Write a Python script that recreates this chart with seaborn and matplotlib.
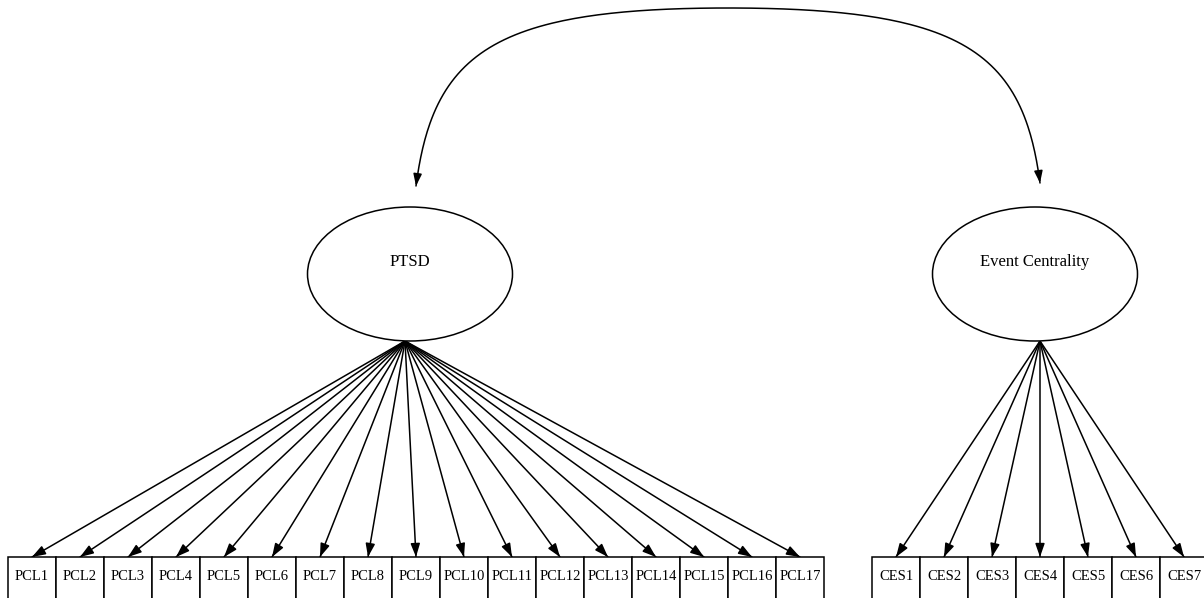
import numpy as np
import pandas as pd
import matplotlib
matplotlib.use("Agg")
import matplotlib.pyplot as plt
import seaborn as sns
from matplotlib.patches import Ellipse, Rectangle

sns.set_theme(style="white")
plt.rcParams['font.family'] = ['Liberation Serif', 'DejaVu Serif']

# model: two latent factors, their indicators, one covariance
latent = ["PTSD", "Event Centrality"]
pcl_items = ["PCL1", "PCL2", "PCL3", "PCL4", "PCL5", "PCL6", "PCL7", "PCL8", "PCL9",
             "PCL10", "PCL11", "PCL12", "PCL13", "PCL14", "PCL15", "PCL16", "PCL17"]
ces_items = ["CES1", "CES2", "CES3", "CES4", "CES5", "CES6", "CES7"]
indicators = {"PTSD": pcl_items, "Event Centrality": ces_items}

# layout in pixels (figure is 1204 x 598)
W, H = 1204, 598
box_w, box_h, box_top = 48, 52, 557
row_left = {"PTSD": 8, "Event Centrality": 872}
ell_center = {"PTSD": (410, 274), "Event Centrality": (1035, 274)}
ell_w, ell_h = 205, 134
label_y = 262
apex = {"PTSD": (405, 341), "Event Centrality": (1040, 341)}
cov_tips = [(416, 186), (1040, 183)]
cov_top = (728, 8)
k = 0.75       # handle length of the covariance curve
flare = 0.13   # outward lean at the arrow ends
lw = 1.1

fig = plt.figure(figsize=(W / 100, H / 100), dpi=100)
ax = fig.add_axes([0, 0, 1, 1])

# loading paths
rows = []
for lat in latent:
    ax0, ay0 = apex[lat]
    for i, item in enumerate(indicators[lat]):
        tx = row_left[lat] + box_w * i + box_w / 2
        rows.append({"edge": item, "x": ax0, "y": ay0, "tip": False})
        rows.append({"edge": item, "x": tx, "y": box_top, "tip": True})
edges = pd.DataFrame(rows)

sns.lineplot(data=edges, x="x", y="y", units="edge", estimator=None, sort=False,
             color="black", lw=lw, ax=ax, legend=False)


def head(xy, d, ms=10, hl=0.8, hw=0.28):
    d = np.asarray(d, float)
    d = d / np.hypot(*d)
    start = np.asarray(xy) - d * 6
    ax.annotate("", xy=xy, xytext=start,
                arrowprops=dict(arrowstyle=f"-|>,head_length={hl},head_width={hw}",
                                color="black", lw=lw, shrinkA=0, shrinkB=0,
                                mutation_scale=ms))


for item, g in edges.groupby("edge"):
    p0 = g.loc[~g["tip"], ["x", "y"]].values[0]
    p1 = g.loc[g["tip"], ["x", "y"]].values[0]
    head(tuple(p1), p1 - p0)


def bezier(P, n=120):
    t = np.linspace(0, 1, n)[:, None]
    return ((1 - t) ** 3 * P[0] + 3 * (1 - t) ** 2 * t * P[1]
            + 3 * (1 - t) * t ** 2 * P[2] + t ** 3 * P[3])


# covariance curve: two cubic halves meeting at the top
tx, ty = cov_top
segs = []
first_handles = []
for (ex, ey) in cov_tips:
    rx, ry = tx - ex, ey - ty
    c1 = (ex + np.sign(rx) * flare * k * ry, ey - k * ry)
    c2 = (tx - k * rx, ty)
    P = np.array([(ex, ey), c1, c2, (tx, ty)], float)
    segs.append(bezier(P))
    first_handles.append(P)
curve = np.vstack([segs[0], segs[1][::-1]])
cov = pd.DataFrame(curve, columns=["x", "y"])
sns.lineplot(data=cov, x="x", y="y", sort=False, estimator=None, color="black", lw=lw, ax=ax)
for P in first_handles:
    head(tuple(P[0]), P[0] - P[1], ms=9, hl=0.8, hw=0.28)

# latent ellipses
for lat in latent:
    cx, cy = ell_center[lat]
    ax.add_patch(Ellipse((cx, cy), ell_w, ell_h, facecolor="white",
                         edgecolor="black", lw=lw, zorder=3))
    ax.text(cx, label_y, lat, ha="center", va="center", fontsize=12,
            color="black", zorder=4)

# indicator boxes
for lat in latent:
    for i, item in enumerate(indicators[lat]):
        x = row_left[lat] + box_w * i
        ax.add_patch(Rectangle((x, box_top), box_w, box_h, facecolor="white",
                               edgecolor="black", lw=lw, zorder=3))
        ax.text(x + box_w / 2, 576, item, ha="center", va="center", fontsize=10.5,
                color="black", zorder=4)

ax.set_xlim(0, W)
ax.set_ylim(H, 0)
ax.axis("off")
fig.savefig("out.png", dpi=100, facecolor="white")
